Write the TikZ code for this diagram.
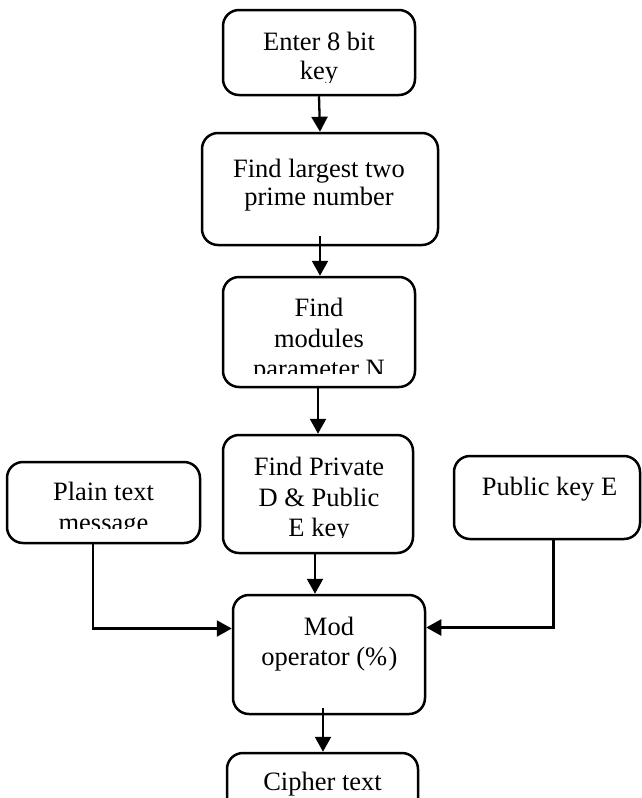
\documentclass[tikz,border=0pt]{standalone}
\usepackage{fontspec}
\setmainfont{Liberation Serif}
\usetikzlibrary{arrows.meta,calc}

\tikzset{
  box/.style={draw, line width=2.5pt, rounded corners=16pt, inner sep=0pt},
  txt/.style={anchor=base, inner sep=0pt, font=\fontsize{26.5}{30}\selectfont},
  link/.style={line width=2.3pt},
  arr/.style={link, -{Triangle[length=15pt,width=16pt]}}
}

\begin{document}
\begin{tikzpicture}[x=1pt,y=-1pt]
  \useasboundingbox (0,0) rectangle (642,798);

  % boxes
  \node[box, minimum width=192pt, minimum height=85pt]  (b1)     at (319,52.5)    {};
  \node[box, minimum width=236pt, minimum height=112pt] (b2)     at (320,189)     {};
  \node[box, minimum width=192pt, minimum height=110pt] (b3)     at (319,332)     {};
  \node[box, minimum width=190pt, minimum height=118pt] (b4)     at (318,494)     {};
  \node[box, minimum width=193pt, minimum height=81pt]  (plain)  at (103.5,502.5) {};
  \node[box, minimum width=186pt, minimum height=83pt]  (pub)    at (547,497.5)   {};
  \node[box, minimum width=192pt, minimum height=119pt] (mod)    at (329,654.5)   {};
  \node[box, minimum width=191pt, minimum height=77pt]  (cipher) at (322.5,791.5) {};

  % labels (text is cut off near the lower edge of a box)
  \begin{scope}
    \clip (223,10) rectangle (415,82);
    \node[txt] (t1a) at (319,50) {Enter 8 bit};
    \node[txt] (t1b) at (319,79) {key};
  \end{scope}

  \node[txt] (t2a) at (319,177) {Find largest two};
  \node[txt] (t2b) at (319,205) {prime number};

  \begin{scope}
    \clip (223,277) rectangle (415,373);
    \node[txt] (t3a) at (319,316) {Find};
    \node[txt] (t3b) at (319,347) {modules};
    \node[txt] (t3c) at (319,377) {parameter N};
  \end{scope}

  \begin{scope}
    \clip (223,435) rectangle (413,537);
    \node[txt] (t4a) at (319,475) {Find Private};
    \node[txt] (t4b) at (319,506) {D \& Public};
    \node[txt] (t4c) at (319,536) {E key};
  \end{scope}

  \begin{scope}
    \clip (7,462) rectangle (200,528);
    \node[txt] (tpa) at (103.5,500) {Plain text};
    \node[txt] (tpb) at (103.5,531) {message};
  \end{scope}

  \node[txt] (tpk) at (549.5,495) {Public key E};

  \node[txt] (tma) at (329,635) {Mod};
  \node[txt] (tmb) at (329.5,665) {operator (\%\kern1.5pt)};

  \node[txt] (tc) at (322.5,790) {Cipher text};

  % connectors
  \draw[arr] (b1.south) -- (b2.north);
  \draw[arr] ($(b2.south)+(0,-10)$) -- (b2.south |- b3.north);
  \draw[arr] ($(b3.south)+(-1,0)$) -- ($(b3.south |- b4.north)+(-1,0)$);
  \draw[arr] ($(b4.south)+(-3,0)$) -- ($(b4.south |- mod.north)+(-3,0)$);
  \draw[arr] ($(cipher.north |- mod.south)+(0.5,-7)$) -- ($(cipher.north)+(0.5,0)$);
  \draw[arr] ($(plain.south)+(-10.5,0)$) |- ($(mod.west)+(0,-26)$);
  \draw[arr] ($(pub.south)+(6.5,0)$) |- ($(mod.east)+(0,-27)$);
\end{tikzpicture}
\end{document}
